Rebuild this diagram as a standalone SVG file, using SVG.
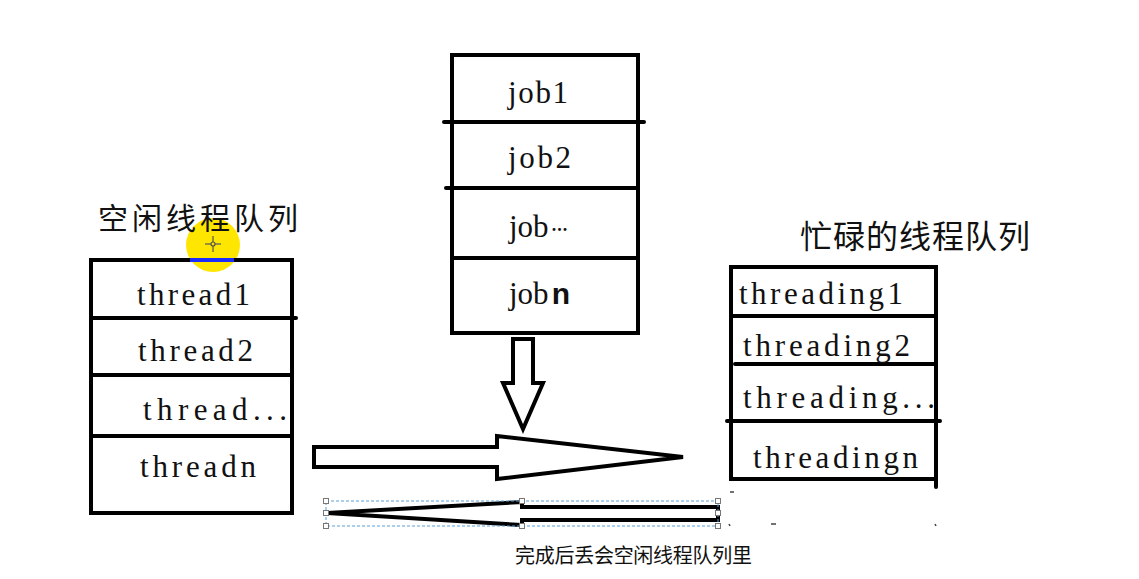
<svg xmlns="http://www.w3.org/2000/svg" width="1139" height="579" viewBox="0 0 1139 579">
<style>
.box{fill:none;stroke:#000;stroke-width:4}
.div{stroke:#000;stroke-width:4;stroke-linecap:round}
.arrow{fill:#fff;stroke:#000;stroke-width:4;stroke-linejoin:miter}
.lat{font-family:"Liberation Serif",serif;font-size:31px;fill:#111}
.cjk{font-family:"Noto Sans CJK SC",sans-serif;fill:#111}
.handle{fill:#fff;stroke:#777;stroke-width:1}
</style>
<rect width="1139" height="579" fill="#fff"/>

<g id="cursor-highlight">
<circle cx="213" cy="245" r="27" fill="#ffe600"/>
</g>

<g id="idle-title">
<text class="cjk" x="98" y="229" font-size="30" textLength="200" lengthAdjust="spacing">空闲线程队列</text>
</g>

<g id="idle-queue">
<rect class="box" x="91" y="260" width="201" height="253"/>
<line class="div" x1="91" y1="318" x2="296" y2="318"/>
<line class="div" x1="91" y1="375" x2="292" y2="375"/>
<line class="div" x1="91" y1="436" x2="292" y2="436"/>
<line x1="190" y1="260" x2="234" y2="260" stroke="#1a2cff" stroke-width="4"/>
<text class="lat" x="137" y="305" textLength="113" lengthAdjust="spacing">thread1</text>
<text class="lat" x="138" y="361" textLength="115" lengthAdjust="spacing">thread2</text>
<text class="lat" x="143" y="420" textLength="144" lengthAdjust="spacing">thread...</text>
<text class="lat" x="140" y="477" textLength="116" lengthAdjust="spacing">threadn</text>
</g>

<g id="crosshair" stroke="#555" stroke-width="1.2">
<line x1="205" y1="244" x2="221" y2="244"/>
<line x1="213" y1="236" x2="213" y2="252"/>
<circle cx="213" cy="244" r="2" fill="#ffe600"/>
</g>

<g id="job-queue">
<rect class="box" x="452" y="55" width="186" height="278"/>
<line class="div" x1="444" y1="122" x2="644" y2="122"/>
<line class="div" x1="446" y1="188" x2="638" y2="188"/>
<line class="div" x1="452" y1="258" x2="638" y2="258"/>
<text class="lat" x="508" y="103" textLength="60" lengthAdjust="spacing">job1</text>
<text class="lat" x="508" y="168" textLength="63" lengthAdjust="spacing">job2</text>
<text class="lat" x="509" y="237">job<tspan font-size="18" font-weight="bold" dy="-6" dx="3" letter-spacing="1">...</tspan></text>
<text class="lat" x="509" y="304">job<tspan font-family="'Liberation Sans',sans-serif" font-weight="bold" font-size="30" dx="3">n</tspan></text>
</g>

<g id="busy-title">
<text class="cjk" x="800" y="248" font-size="32" textLength="230" lengthAdjust="spacing">忙碌的线程队列</text>
</g>

<g id="busy-queue">
<rect class="box" x="731" y="267" width="205" height="212"/>
<line class="div" x1="936" y1="479" x2="936" y2="487"/>
<line class="div" x1="731" y1="316" x2="936" y2="316"/>
<line class="div" x1="735" y1="364" x2="936" y2="364"/>
<line class="div" x1="727" y1="421" x2="940" y2="421"/>
<text class="lat" x="739" y="304" textLength="164" lengthAdjust="spacing">threading1</text>
<text class="lat" x="743" y="356" textLength="167" lengthAdjust="spacing">threading2</text>
<text class="lat" x="743" y="408" textLength="192" lengthAdjust="spacing">threading...</text>
<text class="lat" x="753" y="468" textLength="165" lengthAdjust="spacing">threadingn</text>
<g stroke="#444" stroke-width="1.5">
<line x1="730" y1="492" x2="734" y2="492"/>
<line x1="729" y1="524" x2="730" y2="526"/>
<line x1="771" y1="524" x2="776" y2="524"/>
<line x1="935" y1="524" x2="936" y2="526"/>
</g>
</g>

<g id="connectors">
<polygon class="arrow" points="513,339 533,339 533,383 543,383 523,429 503,383 513,383"/>
<polygon class="arrow" points="314,447 497,447 497,436 683,457 497,479 497,467 314,467"/>
<polygon class="arrow" points="718,507 522,507 522,502 327,513 522,525 522,520 718,520" stroke-width="4.5"/>
<g id="selection">
<rect x="326" y="501" width="392" height="25" fill="none" stroke="#5a9fd6" stroke-width="1" stroke-dasharray="3,2"/>
<rect class="handle" x="323.5" y="498.5" width="5" height="5"/>
<rect class="handle" x="519.5" y="498.5" width="5" height="5"/>
<rect class="handle" x="715.5" y="498.5" width="5" height="5"/>
<rect class="handle" x="323.5" y="510.5" width="5" height="5"/>
<rect class="handle" x="715.5" y="510.5" width="5" height="5"/>
<rect class="handle" x="323.5" y="523.5" width="5" height="5"/>
<rect class="handle" x="519.5" y="523.5" width="5" height="5"/>
<rect class="handle" x="715.5" y="523.5" width="5" height="5"/>
</g>
</g>

<g id="caption">
<text class="cjk" x="515" y="563" font-size="20" textLength="237" lengthAdjust="spacing">完成后丢会空闲线程队列里</text>
</g>
</svg>
